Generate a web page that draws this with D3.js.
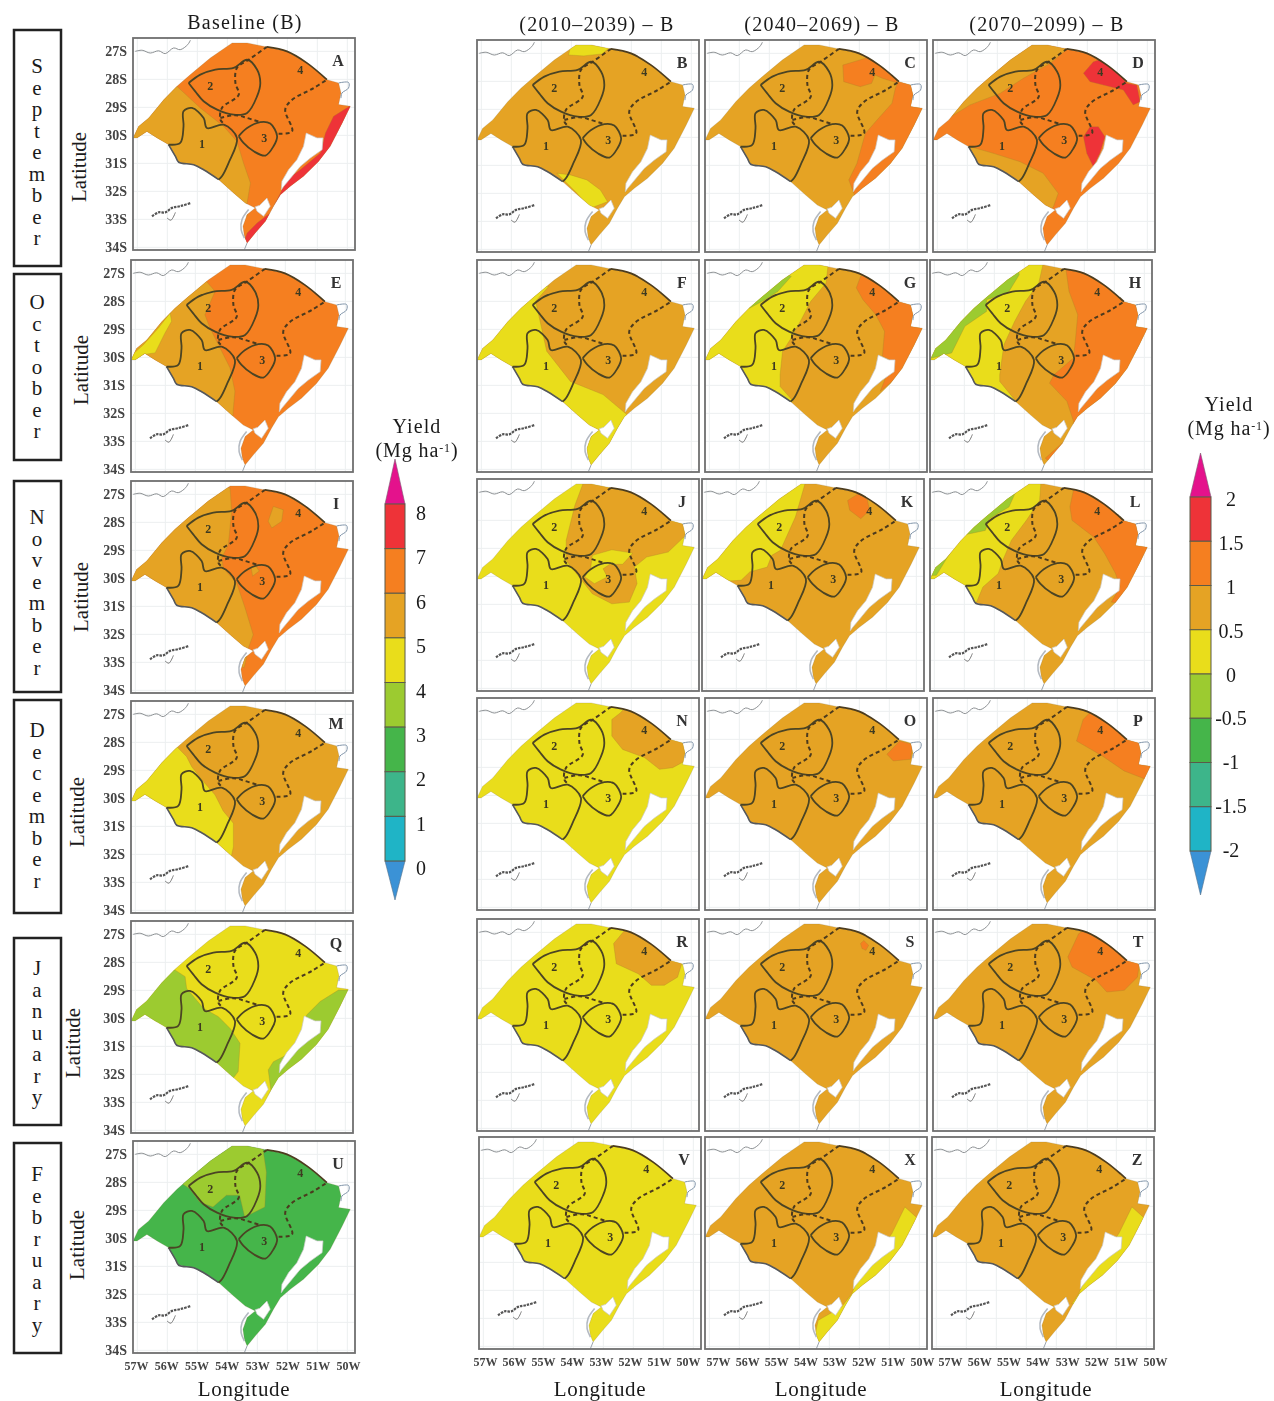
<!DOCTYPE html>
<html><head><meta charset="utf-8">
<script src="https://cdn.jsdelivr.net/npm/d3@7/dist/d3.min.js"></script>
<style>html,body{margin:0;padding:0;background:#fff}svg{display:block}text{font-family:"Liberation Serif",serif;fill:#1a1a1a}</style>
</head><body><svg id="chart" width="1274" height="1401"></svg>
<script>
// ---------- DATA ----------
const months = ["September","October","November","December","January","February"];
const columnTitles = ["Baseline (B)","(2010–2039) – B","(2040–2069) – B","(2070–2099) – B"];
const latTicks = [-27,-28,-29,-30,-31,-32,-33,-34];
const lonTicks = [-57,-56,-55,-54,-53,-52,-51,-50];
const yieldTicks = ["8","7","6","5","4","3","2","1","0"];
const changeTicks = ["2","1.5","1","0.5","0","-0.5","-1","-1.5","-2"];
const yieldClasses = ["red","orange","amber","yellow","lime","green","teal","cyan"];

const stateOutline = [[-57.14,-30.09],[-56.96,-29.68],[-56.62,-29.38],[-56.12,-28.73],[-55.68,-28.25],[-55.23,-27.83],[-54.57,-27.24],[-53.84,-26.70],[-53.34,-26.70],[-52.68,-26.84],[-52.01,-27.0],[-51.34,-27.42],[-50.68,-28.01],[-50.29,-28.13],[-50.21,-28.49],[-50.29,-28.90],[-49.90,-28.96],[-50.17,-29.56],[-50.57,-30.39],[-50.96,-30.93],[-51.46,-31.46],[-51.9,-31.82],[-52.23,-32.12],[-52.46,-32.53],[-52.73,-33.07],[-53.07,-33.49],[-53.34,-33.84],[-53.43,-33.61],[-53.48,-33.25],[-53.34,-32.83],[-53.07,-32.59],[-53.40,-32.42],[-53.79,-32.06],[-54.29,-31.58],[-54.79,-31.23],[-55.12,-31.05],[-55.62,-30.96],[-55.73,-30.75],[-55.96,-30.33],[-56.34,-30.09],[-56.68,-29.86],[-57.01,-30.09]];
const northBorder = [[-52.68,-26.84],[-52.01,-27.0],[-51.34,-27.42],[-50.68,-28.01]];
const southwestBorder = [[-55.96,-30.33],[-55.73,-30.75],[-55.62,-30.96],[-55.12,-31.05],[-54.79,-31.23],[-54.29,-31.58]];
const lagoaDosPatos = [[-51.37,-29.92],[-51.01,-30.09],[-50.81,-30.09],[-50.84,-30.51],[-51.23,-30.81],[-51.57,-31.11],[-51.84,-31.46],[-52.12,-31.82],[-52.2,-31.94],[-52.18,-31.64],[-51.96,-31.23],[-51.68,-30.87],[-51.46,-30.39]];
const lagoaMirim = [[-53.07,-32.55],[-52.92,-32.50],[-52.68,-32.24],[-52.57,-32.53],[-52.79,-32.89],[-53.01,-32.71]];
const riverNorthwest = [[-57.07,-27.0],[-56.84,-26.96],[-56.57,-27.06],[-56.29,-26.98],[-56.07,-27.08],[-55.79,-26.88],[-55.57,-26.94],[-55.32,-26.76],[-55.23,-26.6]];
const riverNortheast = [[-50.29,-28.13],[-49.96,-28.11],[-49.96,-28.31],[-50.18,-28.49],[-50.21,-28.67]];
const southTipLine = [[-53.34,-33.84],[-53.43,-34.08]];
const westTipShore = [[-53.29,-32.65],[-53.51,-33.01],[-53.54,-33.37],[-53.43,-33.67]];
const squiggleMain = [[-56.51,-32.89],[-56.29,-32.75],[-56.07,-32.75],[-55.84,-32.59],[-55.57,-32.53],[-55.23,-32.42]];
const squiggleBranch = [[-56.01,-32.95],[-55.88,-33.03],[-55.73,-32.75]];

const zone1 = [[-55.96,-30.33],[-55.57,-30.27],[-55.46,-29.68],[-55.46,-29.14],[-55.18,-29.02],[-54.79,-29.38],[-54.68,-29.74],[-54.12,-29.62],[-53.68,-30.09],[-53.96,-30.99],[-54.18,-31.46],[-54.29,-31.58]];
const zone2 = [[-55.29,-28.13],[-54.9,-27.83],[-54.40,-27.65],[-53.79,-27.59],[-53.34,-27.30],[-53.01,-27.65],[-52.9,-28.13],[-53.01,-28.61],[-53.34,-29.20],[-53.79,-29.26],[-54.34,-29.08],[-54.79,-28.78],[-55.07,-28.43],[-55.29,-28.13]];
const zone3 = [[-53.62,-30.03],[-53.34,-29.74],[-52.9,-29.53],[-52.57,-29.58],[-52.34,-30.03],[-52.46,-30.39],[-52.73,-30.72],[-53.12,-30.57],[-53.46,-30.27],[-53.62,-30.03]];
const dashedWest = [[-52.68,-26.84],[-53.29,-27.30],[-53.68,-27.59],[-53.73,-28.13],[-53.62,-28.55],[-54.18,-29.02],[-54.23,-29.44],[-54.07,-29.62]];
const dashedMiddle = [[-54.23,-29.38],[-53.73,-29.28],[-53.34,-29.38],[-52.9,-29.53]];
const dashedEast = [[-52.29,-29.94],[-51.84,-29.86],[-52.07,-29.08],[-51.84,-28.73],[-51.12,-28.31],[-50.68,-28.01]];
const zoneNames = ["1","2","3","4"];
const zoneNamePoints = [[-54.84,-30.31],[-54.57,-28.25],[-52.77,-30.09],[-51.57,-27.65]];

const panelLetters = ["A","B","C","D","E","F","G","H","I","J","K","L","M","N","O","P","Q","R","S","T","U","V","X","Z"];
const panelBase = ["orange","amber","amber","orange","orange","amber","amber","amber","orange","yellow","amber","amber","amber","yellow","amber","amber","yellow","yellow","amber","amber","green","yellow","amber","amber"];

const patchesA = [["amber",[[-55.68,-28.25],[-54.9,-29.02],[-54.12,-29.68],[-53.68,-30.21],[-53.46,-30.99],[-53.23,-31.7],[-53.34,-32.42],[-53.34,-32.89],[-57.12,-32.89],[-57.57,-29.8]]],["red",[[-49.84,-28.9],[-50.46,-29.32],[-50.73,-29.92],[-50.9,-30.63],[-51.57,-31.23],[-52.01,-31.58],[-52.23,-32.06],[-52.57,-32.77],[-53.01,-33.13],[-53.34,-33.49],[-53.51,-33.96],[-52.68,-33.96],[-49.34,-29.8]]]];
const patchesB = [["yellow",[[-54.09,-27.06],[-53.98,-26.5],[-53.37,-26.4],[-52.75,-26.82],[-52.98,-27.02],[-53.59,-27.09]]],["yellow",[[-54.03,-31.34],[-53.48,-31.52],[-53.03,-31.88],[-52.79,-32.30],[-53.37,-32.53],[-53.81,-32.0],[-54.48,-31.28]]]];
const patchesC = [["orange",[[-52.55,-27.42],[-51.81,-27.18],[-51.59,-27.0],[-50.92,-27.71],[-50.7,-28.07],[-51.23,-27.89],[-51.48,-27.77],[-51.59,-28.07],[-51.97,-28.19],[-52.52,-28.01]]],["orange",[[-50.8,-28.25],[-50.91,-28.78],[-51.41,-29.38],[-51.8,-29.86],[-52.08,-30.93],[-52.35,-31.52],[-52.14,-32.12],[-51.8,-32.12],[-49.37,-30.09],[-49.37,-27.71],[-50.7,-28.01]]]];
const patchesD = [["amber",[[-56.63,-29.32],[-55.91,-28.84],[-54.91,-28.43],[-54.13,-27.89],[-53.24,-27.36],[-52.58,-26.76],[-52.70,-26.17],[-57.14,-26.17],[-57.25,-29.32]]],["amber",[[-55.91,-30.33],[-55.13,-30.57],[-54.24,-30.87],[-53.47,-31.28],[-52.97,-32.0],[-53.13,-32.48],[-53.81,-33.19],[-56.03,-31.88]]],["red",[[-52.13,-27.71],[-51.8,-27.30],[-51.47,-27.18],[-51.02,-27.59],[-50.69,-28.07],[-50.35,-28.13],[-50.24,-28.73],[-50.47,-28.84],[-50.8,-28.31],[-51.47,-28.13],[-51.91,-28.01]]],["red",[[-52.13,-29.98],[-51.91,-29.62],[-51.63,-29.62],[-51.41,-29.98],[-51.58,-30.57],[-51.8,-31.05],[-52.02,-30.57]]]];
const patchesE = [["amber",[[-54.68,-27.23],[-54.34,-27.64],[-54.68,-28.48],[-54.51,-28.95],[-54.23,-29.55],[-53.84,-30.38],[-53.68,-31.21],[-53.73,-31.81],[-53.81,-33.19],[-57.25,-31.3],[-57.25,-27.71],[-55.48,-26.76]]],["yellow",[[-57.3,-30.09],[-56.73,-29.55],[-56.23,-28.95],[-55.84,-28.42],[-55.79,-28.71],[-56.01,-29.13],[-56.34,-29.84],[-56.73,-29.90],[-57.0,-30.2]]]];
const patchesF = [["yellow",[[-54.75,-27.46],[-55.19,-28.0],[-55.04,-28.71],[-54.82,-29.78],[-54.03,-30.86],[-52.94,-31.33],[-52.14,-32.05],[-49.9,-34.07],[-57.87,-34.07],[-57.87,-27.46]]]];
const patchesG = [["yellow",[[-53.04,-26.45],[-53.04,-26.69],[-53.11,-27.35],[-53.62,-28],[-53.91,-28.6],[-54.27,-29.31],[-54.56,-29.79],[-54.64,-30.62],[-54.64,-31.04],[-54.2,-31.57],[-54.97,-31.93],[-57.87,-31.93],[-57.87,-26.45]]],["lime",[[-55.8,-28.24],[-56.27,-27.64],[-54.97,-26.69],[-54.27,-27.11],[-54.71,-27.64],[-55.14,-27.94],[-55.65,-28.24]]],["orange",[[-51.96,-27.11],[-51.35,-26.81],[-49.03,-28.24],[-49.03,-30.02],[-50.22,-30.26],[-51.30,-31.21],[-50.91,-30.14],[-51.23,-29.96],[-51.16,-29.07],[-51.45,-28.48],[-51.88,-27.94],[-52.1,-27.52]]]];
const patchesH = [["yellow",[[-53.38,-26.45],[-53.38,-26.69],[-53.52,-27.35],[-53.96,-28],[-54.32,-28.71],[-54.68,-29.55],[-54.82,-30.62],[-54.82,-30.86],[-54.32,-31.51],[-54.97,-31.93],[-57.87,-31.93],[-57.87,-26.45]]],["lime",[[-56.42,-29.84],[-55.98,-28.89],[-55.26,-28.36],[-55.26,-27.94],[-54.54,-27.70],[-54.17,-27.05],[-54.25,-26.45],[-57.87,-27.64],[-57.87,-30.02],[-57.07,-30.02]]],["orange",[[-52.65,-26.57],[-52.51,-27.64],[-52.22,-28.48],[-52.29,-29.31],[-52.36,-30.02],[-53.01,-30.62],[-53.16,-30.92],[-52.58,-31.57],[-52.36,-32.29],[-52.43,-32.76],[-53.3,-33.6],[-52.8,-34.07],[-48.45,-30.02],[-48.45,-26.45]]]];
const patchesI = [["amber",[[-53.84,-26.77],[-53.79,-27.61],[-53.9,-28.8],[-54.12,-29.27],[-54.07,-29.63],[-53.62,-30.17],[-53.34,-31.06],[-53.07,-32.01],[-53.23,-32.49],[-53.37,-33.19],[-57.25,-31.3],[-57.25,-27.71],[-54.92,-26.52]]],["amber",[[-52.57,-27.96],[-52.40,-27.43],[-52.07,-27.55],[-52.12,-27.96],[-52.45,-28.2]]],["amber",[[-53.14,-29.62],[-52.98,-29.56],[-52.87,-29.74],[-53.09,-29.92]]]];
const patchesJ = [["amber",[[-53.59,-26.63],[-53.88,-27.46],[-54.17,-28.71],[-54.17,-29.43],[-53.74,-30.02],[-53.3,-30.62],[-52.65,-30.98],[-52.07,-30.92],[-51.81,-30.26],[-51.9,-29.67],[-51.49,-29.31],[-50.77,-29.13],[-50.3,-28.65],[-49.61,-28],[-49.61,-26.45],[-53.59,-26.45]]],["yellow",[[-53.3,-29.25],[-52.65,-29.05],[-51.95,-29.17],[-52.29,-29.57],[-52.72,-29.57],[-52.94,-29.73],[-52.8,-30.02],[-53.23,-30.26],[-53.55,-30.02],[-53.35,-29.67]]]];
const patchesK = [["yellow",[[-53.71,-26.45],[-53.71,-26.69],[-54.03,-27.88],[-54.53,-29.07],[-54.82,-29.25],[-54.97,-29.67],[-55.55,-29.84],[-55.84,-30.14],[-57.87,-30.26],[-57.87,-26.45]]],["orange",[[-52.29,-27.29],[-51.93,-27.05],[-51.64,-27.23],[-51.56,-27.64],[-51.85,-27.94],[-52.22,-27.64]]]];
const patchesL = [["yellow",[[-53.45,-26.45],[-53.45,-26.69],[-53.49,-27.29],[-53.93,-28],[-54.43,-28.71],[-54.72,-29.43],[-54.87,-29.9],[-55.38,-30.38],[-55.59,-30.92],[-57.87,-30.92],[-57.87,-26.45]]],["lime",[[-56.93,-29.96],[-56.56,-29.31],[-56.06,-28.53],[-55.3,-28.36],[-55.16,-27.94],[-54.51,-27.52],[-54.29,-26.99],[-54.39,-26.45],[-57.87,-27.64],[-57.87,-30.02]]],["orange",[[-52.33,-26.75],[-52.48,-27.52],[-52.41,-28],[-51.68,-28.6],[-51.32,-29.19],[-50.96,-29.9],[-50.81,-30.38],[-51.1,-30.92],[-50.62,-30.98],[-48.45,-29.43],[-49.9,-27.64],[-51.93,-26.57]]]];
const patchesM = [["yellow",[[-55.62,-28.15],[-55.29,-28.51],[-55.12,-28.87],[-54.73,-29.40],[-54.34,-29.88],[-54.07,-30.45],[-53.73,-30.89],[-53.73,-31.73],[-53.81,-32.12],[-54.92,-32.48],[-57.25,-31.3],[-57.25,-28.15]]]];
const patchesN = [["amber",[[-52.65,-27.29],[-52.36,-27.05],[-52.07,-26.7],[-51.35,-26.9],[-49.9,-28.0],[-50.0,-28.65],[-50.62,-29.01],[-51.06,-29.07],[-51.56,-28.65],[-52.29,-28.36],[-52.65,-27.88]]]];
const patchesO = [["orange",[[-51.08,-28.53],[-50.65,-28.06],[-50.22,-28.18],[-50.29,-28.71],[-50.87,-28.77]]]];
const patchesP = [["orange",[[-52.36,-28.06],[-52.14,-27.29],[-51.78,-26.9],[-51.2,-27.0],[-50.4,-27.8],[-49.9,-28.18],[-50.0,-28.83],[-49.6,-28.89],[-50.04,-29.43],[-50.77,-29.13],[-51.49,-28.6],[-52.07,-28.24]]]];
const patchesQ = [["lime",[[-55.68,-28.27],[-55.34,-28.51],[-55.29,-28.93],[-54.73,-29.64],[-54.23,-29.94],[-53.84,-30.36],[-53.51,-30.89],[-53.57,-31.9],[-53.81,-32.24],[-57.25,-31.3],[-57.25,-28.27]]],["lime",[[-50.23,-28.99],[-50.84,-29.4],[-51.29,-29.88],[-51.4,-30.42],[-51.68,-31.01],[-52.07,-31.37],[-52.4,-31.55],[-52.57,-31.84],[-52.48,-32.56],[-52.64,-32.95],[-52.48,-33.01],[-51.59,-32.48],[-49.37,-30.09],[-49.37,-28.99]]]];
const patchesR = [["amber",[[-52.59,-27.4],[-52.2,-26.9],[-51.62,-26.9],[-50.82,-27.8],[-50.32,-28.12],[-50.46,-28.6],[-50.9,-28.89],[-51.33,-28.89],[-51.77,-28.48],[-52.5,-28.12]]]];
const patchesS = [["orange",[[-51.96,-27.4],[-51.85,-27.29],[-51.69,-27.46],[-51.78,-27.64],[-51.91,-27.58]]]];
const patchesT = [["orange",[[-52.65,-27.88],[-52.29,-27.05],[-51.93,-26.8],[-51.06,-27.3],[-50.26,-28.12],[-50.33,-28.6],[-50.77,-29.07],[-51.35,-29.13],[-51.71,-28.71],[-52.51,-28.24]]]];
const patchesU = [["lime",[[-55.59,-27.99],[-54.92,-27.0],[-53.92,-26.4],[-52.87,-26.4],[-52.7,-27.63],[-52.75,-28.88],[-53.42,-29.24],[-53.59,-28.46],[-54.03,-28.46],[-54.48,-28.88],[-54.92,-28.7],[-55.25,-28.23]]]];
const patchesX = [["yellow",[[-50.48,-29.02],[-50.92,-29.98],[-51.59,-30.93],[-52.03,-31.52],[-52.25,-32.12],[-52.59,-32.59],[-53.37,-33.07],[-53.59,-34.14],[-52.48,-34.14],[-49.37,-30.09]]]];
const patchesZ = [["yellow",[[-50.48,-29.02],[-50.92,-29.98],[-51.59,-30.93],[-52.03,-31.52],[-52.25,-32.12],[-52.48,-32.48],[-51.59,-32.48],[-49.37,-30.09]]]];
const panelPatches = {A:patchesA,B:patchesB,C:patchesC,D:patchesD,E:patchesE,F:patchesF,G:patchesG,H:patchesH,I:patchesI,J:patchesJ,K:patchesK,L:patchesL,M:patchesM,N:patchesN,O:patchesO,P:patchesP,Q:patchesQ,R:patchesR,S:patchesS,T:patchesT,U:patchesU,V:[],X:patchesX,Z:patchesZ};

// ---------- LAYOUT & STYLE ----------
const frameLeft = [133,477,705,933, 131,477,705,930, 131,477,702,930, 131,477,705,933, 131,477,705,933, 133,479,705,932];
const frameTop  = [38,40,40,40, 260,260,260,260, 481,479,479,479, 701,698,698,698, 921,919,919,919, 1141,1137,1137,1137];
const frameW = 222, frameH = 212;
const pxPerLon = 30, pxPerLat = 28, lonAtLeft = -57.144, latAtTop = -26.523;
const colors = {red:"#EE3338",orange:"#F57F20",amber:"#E5A324",yellow:"#E9DD1B",lime:"#9CCB30",green:"#45B54A",teal:"#3DB58A",cyan:"#1FB4C6",blue:"#3B92D6",magenta:"#E4128C"};
const monthBoxes = [[14,30,47,236],[14,274,47,186],[14,481,47,211],[14,700,47,213],[14,938,47,187],[14,1143,47,210]];
const monthFirstY = [73,309,524,737,975,1181];
const latitudeLabels = [[80,167],[82,370],[82,597],[78,812],[74,1043],[78,1245]];
const longitudeLabels = [244,600,821,1046];
const titleX = [245,597,822,1047];
const lonLabelRanges = [[136,348],[485,688],[718,922],[950,1155]];
const lonLabelPanels = ["U","V","X","Z"];

const svg = d3.select("#chart");
const mapsLayer = svg.append("g").style("filter","blur(0.7px)");
const closedLine = d3.line().curve(d3.curveLinearClosed);

panelLetters.forEach((letter,i)=>{
  const fx = frameLeft[i], fy = frameTop[i];
  const lonScale = d3.scaleLinear().domain([lonAtLeft,lonAtLeft+frameW/pxPerLon]).range([fx,fx+frameW]);
  const latScale = d3.scaleLinear().domain([latAtTop,latAtTop-frameH/pxPerLat]).range([fy,fy+frameH]);
  const open = d3.line().x(d=>lonScale(d[0])).y(d=>latScale(d[1])).curve(d3.curveCatmullRom.alpha(0.5));
  const poly = d3.line().x(d=>lonScale(d[0])).y(d=>latScale(d[1])).curve(d3.curveLinearClosed);
  const g = mapsLayer.append("g");
  const clipId = "clip"+letter;
  g.append("clipPath").attr("id",clipId).append("path").attr("d",poly(stateOutline));
  g.selectAll(".vgrid").data(lonTicks).join("line").attr("x1",d=>lonScale(d)).attr("x2",d=>lonScale(d)).attr("y1",fy).attr("y2",fy+frameH).attr("stroke","#eceff0").attr("stroke-width",1);
  g.selectAll(".hgrid").data(latTicks).join("line").attr("y1",d=>latScale(d)).attr("y2",d=>latScale(d)).attr("x1",fx).attr("x2",fx+frameW).attr("stroke","#eceff0").attr("stroke-width",1);
  g.append("path").attr("d",poly(stateOutline)).attr("fill",colors[panelBase[i]]);
  const clipped = g.append("g").attr("clip-path",`url(#${clipId})`);
  clipped.selectAll("path").data(panelPatches[letter]).join("path")
    .attr("d",d=>poly(d[1])).attr("fill",d=>colors[d[0]]).attr("stroke","#a8842a").attr("stroke-opacity",.45).attr("stroke-width",.7);
  g.append("path").attr("d",poly(stateOutline)).attr("fill","none").attr("stroke","#7d6f45").attr("stroke-opacity",.3).attr("stroke-width",.7);
  [lagoaDosPatos,lagoaMirim].forEach(l=>g.append("path").attr("d",poly(l)).attr("fill","#fff").attr("stroke","#c9c9c9").attr("stroke-width",.7));
  [[riverNorthwest,"#8b8f92",1],[riverNortheast,"#7f93a8",1],[southTipLine,"#9aa3ad",1],[westTipShore,"#b4bac2",1.6]].forEach(([d,c,w])=>
    g.append("path").attr("d",open(d)).attr("fill","none").attr("stroke",c).attr("stroke-width",w));
  g.append("path").attr("d",open(squiggleMain)).attr("fill","none").attr("stroke","#555").attr("stroke-width",2.2).attr("stroke-dasharray","2.5 1");
  g.append("path").attr("d",open(squiggleBranch)).attr("fill","none").attr("stroke","#777").attr("stroke-width",1);
  g.append("path").attr("d",open(southwestBorder)).attr("fill","none").attr("stroke","#55585c").attr("stroke-width",1.6);
  g.append("path").attr("d",open(northBorder)).attr("fill","none").attr("stroke","#4c3c1e").attr("stroke-width",1.7);
  [zone1,zone2,zone3].forEach(z=>g.append("path").attr("d",open(z)).attr("fill","none").attr("stroke","#4b4424").attr("stroke-width",1.8));
  [dashedWest,dashedMiddle,dashedEast].forEach(z=>g.append("path").attr("d",open(z)).attr("fill","none").attr("stroke","#4b3a1e").attr("stroke-width",2).attr("stroke-dasharray","4 3"));
  g.selectAll(".zn").data(zoneNames).join("text").text(d=>d)
    .attr("x",(d,k)=>lonScale(zoneNamePoints[k][0])).attr("y",(d,k)=>latScale(zoneNamePoints[k][1])+4)
    .attr("text-anchor","middle").attr("font-size",12).attr("font-weight","bold").style("fill","#3e3a20");
  g.append("rect").attr("x",fx).attr("y",fy).attr("width",frameW).attr("height",frameH).attr("fill","none").attr("stroke","#6f6f6f").attr("stroke-width",1.8);
  g.append("text").text(letter).attr("x",fx+205).attr("y",fy+28).attr("text-anchor","middle").attr("font-size",16).attr("font-weight","bold").style("fill","#333");
  if(i%4===0){
    const axis = d3.axisLeft(latScale).tickValues(latTicks).tickSize(0).tickPadding(6).tickFormat(d=>Math.abs(d)+"S");
    const a = g.append("g").attr("transform",`translate(${fx},0)`).call(axis);
    a.select(".domain").remove();
    a.selectAll("text").attr("font-size",14).attr("font-weight","bold").style("font-family",'"Liberation Serif",serif').style("fill","#444");
  }
});

lonLabelPanels.forEach((p,k)=>{
  const s = d3.scaleLinear().domain([-57,-50]).range(lonLabelRanges[k]);
  const a = mapsLayer.append("g").attr("transform",`translate(0,${k===0?1358:1354})`).call(d3.axisBottom(s).tickValues(lonTicks).tickSize(0).tickPadding(3).tickFormat(d=>Math.abs(d)+"W"));
  a.select(".domain").remove();
  a.selectAll("text").attr("font-size",12).attr("font-weight","bold").style("font-family",'"Liberation Serif",serif').style("fill","#444");
});

const boxLayer = svg.append("g");
months.forEach((m,i)=>{
  const b = monthBoxes[i];
  boxLayer.append("rect").attr("x",b[0]).attr("y",b[1]).attr("width",b[2]).attr("height",b[3]).attr("fill","#fff").attr("stroke","#222").attr("stroke-width",2.5);
  boxLayer.append("g").selectAll("text").data(m.split("")).join("text").text(d=>d)
    .attr("x",37).attr("y",(d,k)=>monthFirstY[i]+k*21.5).attr("text-anchor","middle").attr("font-size",21);
  const l = latitudeLabels[i];
  boxLayer.append("text").text("Latitude").attr("transform",`translate(${l[0]+6},${l[1]}) rotate(-90)`).attr("text-anchor","middle").attr("font-size",21);
});

columnTitles.forEach((t,i)=>svg.append("text").text(t).attr("x",titleX[i]).attr("y",i?31:29).attr("text-anchor","middle").attr("font-size",20).attr("letter-spacing",1.25));
longitudeLabels.forEach(x=>svg.append("text").text("Longitude").attr("x",x).attr("y",1396).attr("text-anchor","middle").attr("font-size",21).attr("letter-spacing",.7));

function colorBar(x0,x1,yRange,tipTop,tipBottom,ticks,labelX,labelRange,titleCx,titleY){
  const g = svg.append("g");
  const y = d3.scalePoint().domain(ticks).range(yRange);
  const mid=(x0+x1)/2;
  g.append("path").attr("d",closedLine([[x0,yRange[0]],[mid,tipTop],[x1,yRange[0]]])).attr("fill",colors.magenta).attr("stroke","#7a5a70").attr("stroke-width",.6);
  g.append("path").attr("d",closedLine([[x0,yRange[1]],[mid,tipBottom],[x1,yRange[1]]])).attr("fill",colors.blue).attr("stroke","#55708a").attr("stroke-width",.6);
  g.selectAll(".band").data(yieldClasses).join("rect")
    .attr("x",x0).attr("width",x1-x0).attr("y",(d,i)=>y(ticks[i])).attr("height",(d,i)=>y(ticks[i+1])-y(ticks[i]))
    .attr("fill",d=>colors[d]).attr("stroke","#5b5a48").attr("stroke-width",1);
  const ly = d3.scalePoint().domain(ticks).range(labelRange);
  g.selectAll(".lbl").data(ticks).join("text").text(d=>d).attr("x",labelX).attr("y",d=>ly(d)+7).attr("text-anchor","middle").attr("font-size",20);
  g.append("text").text("Yield").attr("x",titleCx).attr("y",titleY).attr("text-anchor","middle").attr("font-size",20).attr("letter-spacing",1.1);
  const t = g.append("text").attr("x",titleCx).attr("y",titleY+24).attr("text-anchor","middle").attr("font-size",20).attr("letter-spacing",.9);
  t.append("tspan").text("(Mg ha");
  t.append("tspan").text("-1").attr("font-size",12).attr("dy",-5);
  t.append("tspan").text(")").attr("dy",5);
}
colorBar(385,405,[504,861],459,900,yieldTicks,421,[513,868],417,433);
colorBar(1190,1211,[497,851],453,895,changeTicks,1231,[499,850],1229,411);
</script></body></html>
